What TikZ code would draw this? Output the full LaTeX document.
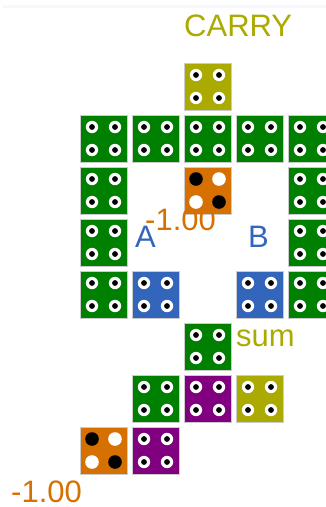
\documentclass[tikz,border=0pt]{standalone}
\usepackage{fontspec}
\setmainfont{Liberation Sans}
\usetikzlibrary{positioning}
\definecolor{gr}{RGB}{0,128,0}
\definecolor{ol}{RGB}{170,170,0}
\definecolor{or}{RGB}{214,112,0}
\definecolor{bl}{RGB}{51,102,187}
\definecolor{pu}{RGB}{128,0,128}

\begin{document}
\begin{tikzpicture}[x=1pt,y=-1pt,
    tile/.style={rectangle,draw=gray!40,line width=0.6pt,minimum size=47pt,inner sep=0pt,fill=#1},
    lbl/.style={anchor=base west,inner sep=0pt,font=\fontsize{31}{31}\selectfont,text=#1},
]
\useasboundingbox (0,0) rectangle (326,507);
\clip (0,0) rectangle (326,507);
\fill[blue!3] (3,5) rectangle (326,8);

% tiles: column/row/colour
\foreach \c/\r/\col in {2/0/ol,
    0/1/gr,1/1/gr,2/1/gr,3/1/gr,4/1/gr,
    0/2/gr,2/2/or,4/2/gr,
    0/3/gr,4/3/gr,
    0/4/gr,1/4/bl,3/4/bl,4/4/gr,
    2/5/gr,
    1/6/gr,2/6/pu,3/6/ol,
    0/7/or,1/7/pu}
  \node[tile=\col] (t\c\r) at (103.5+52*\c,86.5+52*\r) {};

% holes
\foreach \n in {t20,t01,t11,t21,t31,t41,t02,t42,t03,t43,t04,t14,t34,t44,t25,t16,t26,t36,t17}
  \foreach \dx in {-11.5,11.5}
    \foreach \dy in {-11.5,11.5} {
      \fill[white] ([shift={(\dx,\dy)}]\n.center) circle (6.2);
      \fill[black] ([shift={(\dx,\dy)}]\n.center) circle (2.9);
    }

% dice
\foreach \n in {t22,t07} {
  \fill[black] ([shift={(-11.5,-11.5)}]\n.center) circle (6.8);
  \fill[white] ([shift={(11.5,-11.5)}]\n.center) circle (6.8);
  \fill[white] ([shift={(-11.5,11.5)}]\n.center) circle (6.8);
  \fill[black] ([shift={(11.5,11.5)}]\n.center) circle (6.8);
}

% labels
\node[lbl=ol] (carry) at (184,36) {CARRY};
\node[lbl=or] (mval) at (145,230) {-1.00};
\node[lbl=bl] (la) at (135,247) {A};
\node[lbl=bl] (lb) at (248,247) {B};
\node[lbl=ol] (sum) at (236,346) {sum};
\node[lbl=or] (bval) at (11,502) {-1.00};
\end{tikzpicture}
\end{document}
